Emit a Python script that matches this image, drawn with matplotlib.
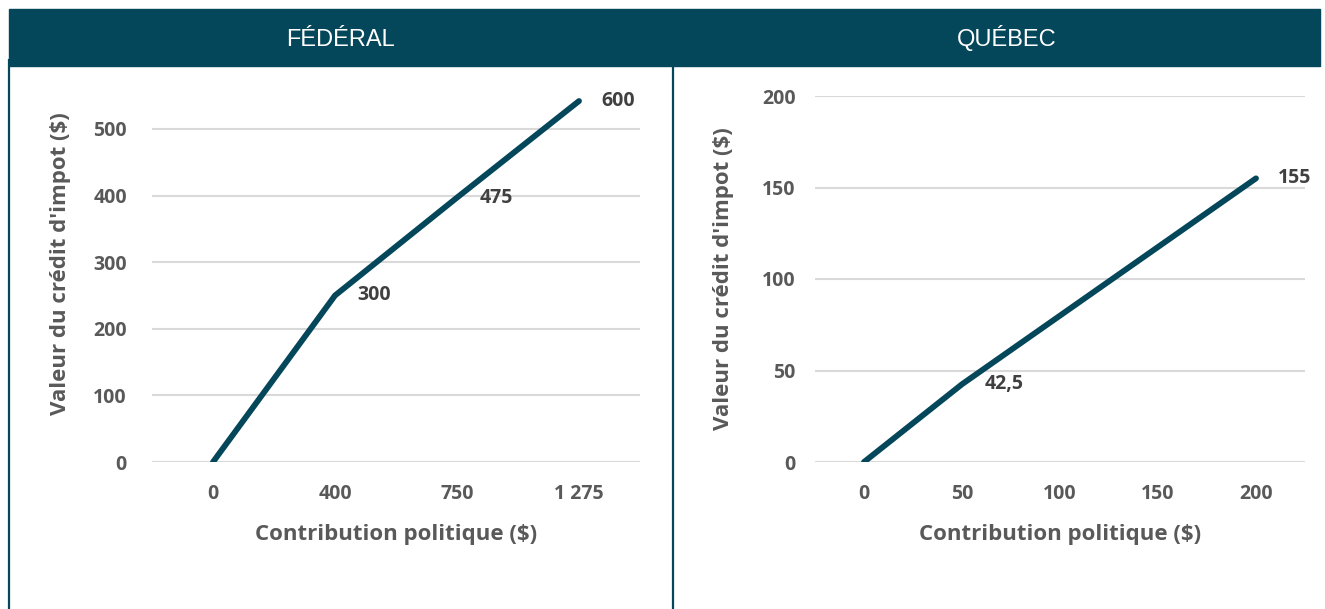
import matplotlib
matplotlib.use("Agg")
import matplotlib.pyplot as plt
from matplotlib.patches import Rectangle
from matplotlib.lines import Line2D

# données ------------------------------------------------------------
fed_cats = ["0", "400", "750", "1 275"]
fed_vals = [0, 250, 397, 542]
fed_labels = ["", "300", "475", "600"]

qc_cats = ["0", "50", "100", "150", "200"]
qc_vals = [0, 42.5, 80, 117.5, 155]
qc_labels = ["", "42,5", "", "", "155"]

# styles -------------------------------------------------------------
TEAL = "#05475A"
GRIS = "#595959"
GRILLE = "#D9D9D9"
POLICE = ["Open Sans", "DejaVu Sans"]

W, H = 1325, 609
fig = plt.figure(figsize=(W / 100, H / 100), dpi=100)


def px_axes(x0, y0, x1, y1):
    # coordonnées en pixels (origine en haut à gauche)
    return fig.add_axes([x0 / W, 1 - y1 / H, (x1 - x0) / W, (y1 - y0) / H])


def trace(ax, cats, vals, labels, ymax, yticks, ypad, ylpad):
    x = list(range(len(cats)))
    ax.plot(x, vals, color=TEAL, lw=4.2, solid_capstyle="round",
            solid_joinstyle="round", zorder=3)
    for xi, v, lab in zip(x, vals, labels):
        if lab:
            ax.annotate(lab, (xi, v), xytext=(16, 0), textcoords="offset points",
                        ha="left", va="center", fontsize=14, fontweight="bold",
                        color="#404040", family=POLICE)
    ax.set_xlim(-0.5, len(cats) - 0.5)
    ax.set_ylim(0, ymax)
    ax.set_xticks(x)
    ax.set_xticklabels(cats)
    ax.set_yticks(yticks)
    for s in ax.spines.values():
        s.set_visible(False)
    ax.grid(axis="y", color=GRILLE, lw=1.5)
    ax.set_axisbelow(True)
    ax.tick_params(length=0, labelsize=14, labelcolor=GRIS, pad=ypad)
    ax.tick_params(axis="x", pad=16)
    for t in ax.get_xticklabels() + ax.get_yticklabels():
        t.set_fontweight("bold")
        t.set_family(POLICE)
    ax.set_xlabel("Contribution politique ($)", fontsize=16, fontweight="bold",
                  color=GRIS, family=POLICE, labelpad=14)
    ax.set_ylabel("Valeur du crédit d'impot ($)", fontsize=16, fontweight="bold",
                  color=GRIS, family=POLICE, labelpad=ylpad)


ax1 = px_axes(152, 66, 640, 462)
trace(ax1, fed_cats, fed_vals, fed_labels, (462 - 66) / 0.666,
      [0, 100, 200, 300, 400, 500], 18, 16)

ax2 = px_axes(815, 96, 1305, 462)
trace(ax2, qc_cats, qc_vals, qc_labels, 200, [0, 50, 100, 150, 200], 14, 20)

# cadre et bandeau -----------------------------------------------------
fig.add_artist(Rectangle((9 / W, 1 - 66 / H), (1320 - 9) / W, 57 / H,
                         transform=fig.transFigure, color=TEAL, zorder=5))
for xx in [9, 673]:
    fig.add_artist(Line2D([xx / W, xx / W], [0, 1 - 60 / H], transform=fig.transFigure,
                          color=TEAL, lw=1.6, zorder=5))
TITRE = ["Liberation Sans", "DejaVu Sans"]
fig.text(340 / W, 1 - 46 / H, "FÉDÉRAL", color="white", fontsize=17,
         family=TITRE, ha="center", va="baseline", zorder=6)
fig.text(1007 / W, 1 - 46 / H, "QUÉBEC", color="white", fontsize=17,
         family=TITRE, ha="center", va="baseline", zorder=6)

fig.savefig("out.png", dpi=100)
